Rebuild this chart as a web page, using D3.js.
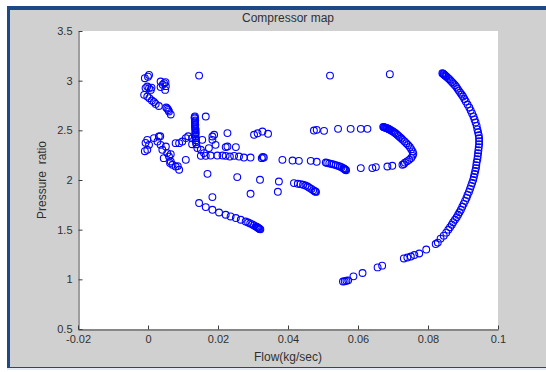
<!DOCTYPE html>
<html>
<head>
<meta charset="utf-8">
<script src="https://cdn.jsdelivr.net/npm/d3@7"></script>
<style>
  body { margin: 0; background: #fff; }
  text { font-family: "Liberation Sans", Arial, sans-serif; }
</style>
</head>
<body>
<div id="chart"></div>
<script>
// tick values and labels
var xTicks = [-0.02, 0, 0.02, 0.04, 0.06, 0.08, 0.1];
var xTickLabels = ["-0.02", "0", "0.02", "0.04", "0.06", "0.08", "0.1"];
var yTicks = [0.5, 1, 1.5, 2, 2.5, 3, 3.5];
var yTickLabels = ["0.5", "1", "1.5", "2", "2.5", "3", "3.5"];

// [flow kg/sec, pressure ratio]
var loneTop = [[0.0146, 3.051], [0.0520, 3.051], [0.0691, 3.065]];

var topLeft = [
  [-0.0009, 3.025], [0.0003, 3.058], [0.0000, 3.040],
  [-0.0007, 2.925], [-0.0002, 2.941], [0.0003, 2.925], [0.0008, 2.907], [0.0010, 2.930],
  [-0.0011, 2.857], [-0.0002, 2.840], [0.0004, 2.824], [0.0011, 2.800], [0.0017, 2.785],
  [0.0022, 2.766], [0.0031, 2.745],
  [0.0036, 2.991], [0.0046, 2.975], [0.0036, 2.935], [0.0049, 2.907], [0.0051, 2.945],
  [0.0042, 2.960], [0.0050, 2.985],
  [0.0052, 2.730], [0.0055, 2.720], [0.0058, 2.705], [0.0060, 2.690], [0.0065, 2.660]
];

var column = [
  [0.0134, 2.640], [0.0134, 2.620], [0.0135, 2.600], [0.0134, 2.580], [0.0135, 2.560],
  [0.0134, 2.540], [0.0135, 2.520], [0.0135, 2.500], [0.0136, 2.480], [0.0135, 2.460],
  [0.0136, 2.440], [0.0136, 2.420], [0.0137, 2.400], [0.0137, 2.380], [0.0138, 2.360],
  [0.0133, 2.630], [0.0134, 2.590], [0.0135, 2.550], [0.0136, 2.510], [0.0136, 2.470],
  [0.0165, 2.639]
];

var lowerLeft = [
  [-0.0002, 2.404], [0.0003, 2.354], [-0.0002, 2.304], [-0.0007, 2.374], [-0.0009, 2.290],
  [0.0017, 2.422], [0.0031, 2.438], [0.0027, 2.387], [0.0036, 2.354], [0.0041, 2.304],
  [0.0051, 2.337], [0.0055, 2.271], [0.0060, 2.236], [0.0065, 2.186], [0.0070, 2.153],
  [0.0079, 2.136], [0.0089, 2.103], [0.0085, 2.140], [0.0108, 2.203], [0.0045, 2.220],
  [0.0065, 2.260], [0.0063, 2.170], [0.0079, 2.371], [0.0089, 2.371], [0.0098, 2.387],
  [0.0108, 2.422], [0.0115, 2.440], [0.0126, 2.420], [0.0126, 2.360], [0.0035, 2.440]
];

var midBand = [
  [0.0155, 2.404], [0.0184, 2.404], [0.0189, 2.455], [0.0184, 2.438], [0.0227, 2.472],
  [0.0303, 2.455], [0.0313, 2.470], [0.0327, 2.488], [0.0343, 2.465],
  [0.0141, 2.321], [0.0151, 2.304], [0.0160, 2.271], [0.0174, 2.321], [0.0193, 2.354],
  [0.0222, 2.331], [0.0227, 2.337], [0.0251, 2.331],
  [0.0151, 2.243], [0.0165, 2.243], [0.0179, 2.246], [0.0198, 2.246], [0.0213, 2.246],
  [0.0222, 2.243], [0.0234, 2.236], [0.0246, 2.243], [0.0260, 2.236], [0.0274, 2.226],
  [0.0293, 2.226], [0.0325, 2.220], [0.0331, 2.226], [0.0328, 2.232]
];

var row22 = [
  [0.0384, 2.203], [0.0413, 2.196], [0.0431, 2.193], [0.0465, 2.193], [0.0482, 2.183],
  [0.0508, 2.176], [0.0512, 2.172], [0.0518, 2.167], [0.0524, 2.162], [0.0530, 2.157],
  [0.0536, 2.150], [0.0542, 2.144], [0.0548, 2.136], [0.0553, 2.128], [0.0558, 2.118],
  [0.0560, 2.113], [0.0562, 2.108], [0.0564, 2.103], [0.0566, 2.098],
  [0.0608, 2.120], [0.0641, 2.120], [0.0651, 2.130], [0.0684, 2.136], [0.0698, 2.143],
  [0.0727, 2.153], [0.0731, 2.160]
];

var row25 = [
  [0.0474, 2.498], [0.0482, 2.505], [0.0503, 2.495], [0.0543, 2.515], [0.0579, 2.515],
  [0.0608, 2.515], [0.0627, 2.515]
];

var hook = [
  [0.0672, 2.535], [0.0674, 2.532], [0.0676, 2.530], [0.0678, 2.527], [0.0680, 2.525],
  [0.0682, 2.522], [0.0684, 2.520], [0.0686, 2.516], [0.0688, 2.512], [0.0690, 2.508],
  [0.0692, 2.505], [0.0696, 2.497], [0.0700, 2.488], [0.0704, 2.478], [0.0708, 2.468],
  [0.0712, 2.456], [0.0716, 2.444], [0.0720, 2.431], [0.0724, 2.418], [0.0728, 2.404],
  [0.0733, 2.388], [0.0738, 2.371], [0.0743, 2.352], [0.0748, 2.332], [0.0752, 2.310],
  [0.0756, 2.288], [0.0758, 2.265], [0.0756, 2.243], [0.0752, 2.222], [0.0746, 2.203],
  [0.0740, 2.188], [0.0734, 2.175]
];

var row19 = [
  [0.0417, 1.969], [0.0428, 1.962], [0.0436, 1.958], [0.0443, 1.952], [0.0450, 1.944],
  [0.0456, 1.934], [0.0461, 1.923], [0.0467, 1.910], [0.0472, 1.898], [0.0476, 1.888],
  [0.0478, 1.884], [0.0480, 1.880]
];

var scattered = [
  [0.0170, 2.062], [0.0255, 2.029], [0.0320, 2.002], [0.0374, 1.985], [0.0293, 1.861],
  [0.0371, 1.881], [0.0184, 1.828]
];

var lowLine = [
  [0.0146, 1.768], [0.0165, 1.727], [0.0184, 1.700], [0.0203, 1.673], [0.0222, 1.650],
  [0.0236, 1.633], [0.0251, 1.617], [0.0265, 1.600], [0.0279, 1.582], [0.0286, 1.572],
  [0.0292, 1.563], [0.0298, 1.553], [0.0303, 1.543], [0.0308, 1.533], [0.0311, 1.527],
  [0.0313, 1.522], [0.0315, 1.517], [0.0317, 1.512], [0.0319, 1.507], [0.0321, 1.503]
];

var rightArc = [
  [0.0841, 3.075], [0.0843, 3.070], [0.0845, 3.065], [0.0847, 3.058], [0.0849, 3.052],
  [0.0851, 3.046], [0.0853, 3.040], [0.0857, 3.028],
  [0.0861, 3.015], [0.0865, 3.000], [0.0869, 2.985], [0.0873, 2.970], [0.0877, 2.955],
  [0.0881, 2.938], [0.0884, 2.920], [0.0888, 2.900], [0.0892, 2.880], [0.0896, 2.860],
  [0.0900, 2.840], [0.0904, 2.815], [0.0908, 2.790], [0.0913, 2.760], [0.0918, 2.730],
  [0.0922, 2.700], [0.0926, 2.670], [0.0930, 2.640], [0.0933, 2.610], [0.0936, 2.580],
  [0.0939, 2.545], [0.0941, 2.510], [0.0943, 2.480], [0.0945, 2.450], [0.0946, 2.420],
  [0.0946, 2.390], [0.0946, 2.360], [0.0945, 2.330], [0.0944, 2.300], [0.0943, 2.270],
  [0.0942, 2.240], [0.0941, 2.210], [0.0939, 2.180], [0.0938, 2.150], [0.0937, 2.120],
  [0.0935, 2.090], [0.0933, 2.060], [0.0931, 2.030], [0.0929, 2.000], [0.0926, 1.970],
  [0.0923, 1.940], [0.0920, 1.910], [0.0917, 1.880], [0.0913, 1.850], [0.0910, 1.820],
  [0.0906, 1.790], [0.0902, 1.760], [0.0898, 1.730], [0.0894, 1.700], [0.0890, 1.675],
  [0.0886, 1.650], [0.0882, 1.625], [0.0877, 1.600], [0.0872, 1.575], [0.0868, 1.550],
  [0.0863, 1.525], [0.0858, 1.500], [0.0852, 1.470], [0.0845, 1.440], [0.0836, 1.410],
  [0.0828, 1.370], [0.0822, 1.355], [0.0795, 1.300], [0.0775, 1.260], [0.0761, 1.245],
  [0.0751, 1.230], [0.0741, 1.220], [0.0731, 1.210],
  [0.0669, 1.138], [0.0656, 1.120], [0.0613, 1.064], [0.0587, 1.030], [0.0572, 0.990],
  [0.0567, 0.985], [0.0562, 0.980], [0.0557, 0.978]
];

var groups = [loneTop, topLeft, column, lowerLeft, midBand, row22, row25, hook,
  row19, scattered, lowLine, rightArc];

function drawChart() {
  var width = 546;
  var height = 372;
  var axLeft = 78, axRight = 498, axTop = 31, axBottom = 329;

  var svg = d3.select("#chart")
    .append("svg")
    .attr("width", width)
    .attr("height", height);

  // figure window: blue frame and grey panel
  svg.append("rect").attr("x", 0).attr("y", 0).attr("width", width).attr("height", height).attr("fill", "#ffffff");
  svg.append("rect").attr("x", 7).attr("y", 6).attr("width", width - 7).attr("height", 362).attr("fill", "#1d4a86");
  svg.append("rect").attr("x", 10).attr("y", 10).attr("width", width - 10).attr("height", 357).attr("fill", "#d0d0d0");
  svg.append("rect").attr("x", 7).attr("y", 368).attr("width", width - 7).attr("height", 2).attr("fill", "#e6ecf3");

  // axes area
  svg.append("rect")
    .attr("x", axLeft).attr("y", axTop)
    .attr("width", axRight - axLeft).attr("height", axBottom - axTop)
    .attr("fill", "#ffffff");

  var x = d3.scaleLinear().domain([-0.02, 0.1]).range([axLeft, axRight]);
  var y = d3.scaleLinear().domain([0.5, 3.5]).range([axBottom, axTop]);

  var xAxis = d3.axisBottom(x)
    .tickValues(xTicks)
    .tickFormat(function (d, i) { return xTickLabels[i]; })
    .tickSizeInner(-4)
    .tickSizeOuter(0)
    .tickPadding(6);

  var yAxis = d3.axisLeft(y)
    .tickValues(yTicks)
    .tickFormat(function (d, i) { return yTickLabels[i]; })
    .tickSizeInner(-4)
    .tickSizeOuter(0)
    .tickPadding(6);

  var gx = svg.append("g")
    .attr("transform", "translate(0," + (axBottom + 0.5) + ")")
    .call(xAxis);
  var gy = svg.append("g")
    .attr("transform", "translate(" + (axLeft + 0.5) + ",0)")
    .call(yAxis);

  [gx, gy].forEach(function (g) {
    g.select(".domain").attr("stroke", "#3c3c3c");
    g.selectAll(".tick line").attr("stroke", "#3c3c3c");
    g.selectAll(".tick text")
      .attr("fill", "#303030")
      .style("font-family", "'Liberation Sans', Arial, sans-serif")
      .style("font-size", "11px");
  });

  // markers
  var points = [];
  groups.forEach(function (g) { points = points.concat(g); });

  svg.append("g")
    .selectAll("circle")
    .data(points)
    .enter()
    .append("circle")
    .attr("cx", function (d) { return x(d[0]); })
    .attr("cy", function (d) { return y(d[1]); })
    .attr("r", 3.4)
    .attr("fill", "none")
    .attr("stroke", "#0000ff")
    .attr("stroke-width", 1.1);

  // labels
  svg.append("text")
    .attr("x", (axLeft + axRight) / 2)
    .attr("y", 22)
    .attr("text-anchor", "middle")
    .attr("fill", "#303030")
    .style("font-size", "12px")
    .text("Compressor map");

  svg.append("text")
    .attr("x", (axLeft + axRight) / 2)
    .attr("y", 361)
    .attr("text-anchor", "middle")
    .attr("fill", "#303030")
    .style("font-size", "12px")
    .text("Flow(kg/sec)");

  svg.append("text")
    .attr("transform", "translate(46," + ((axTop + axBottom) / 2) + ") rotate(-90)")
    .attr("text-anchor", "middle")
    .attr("fill", "#303030")
    .style("font-size", "12px")
    .style("white-space", "pre")
    .text("Pressure  ratio");
}

drawChart();
</script>
</body>
</html>
